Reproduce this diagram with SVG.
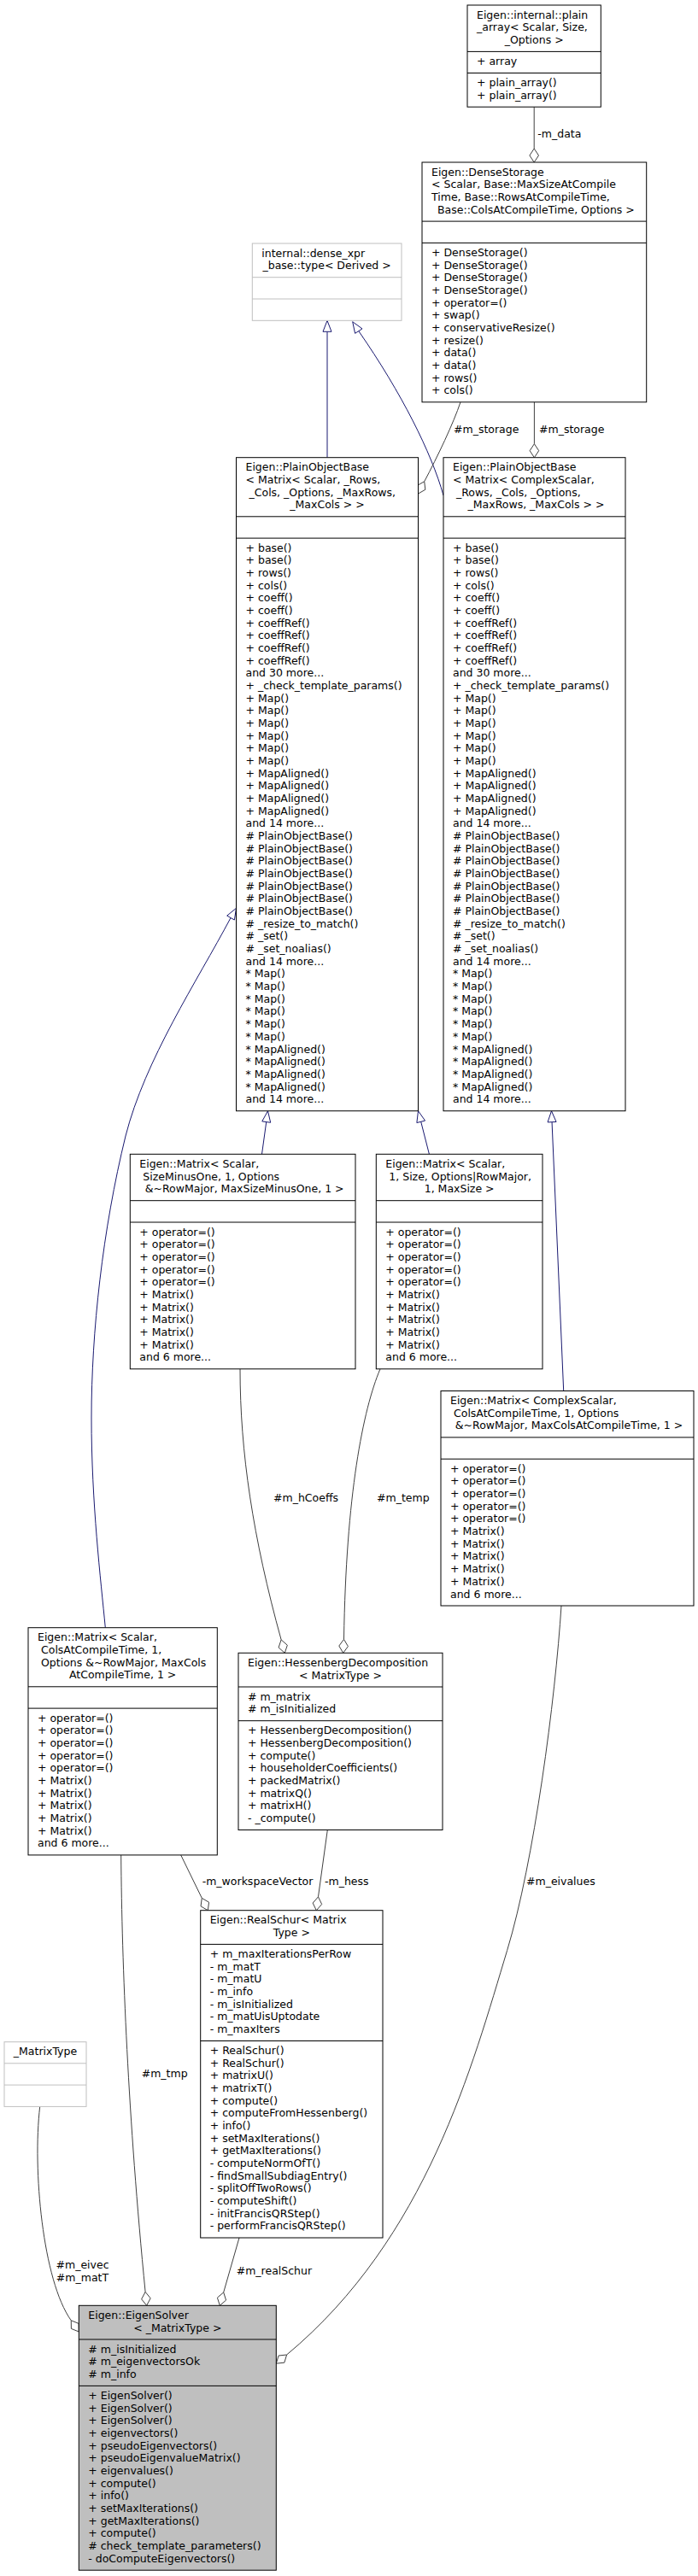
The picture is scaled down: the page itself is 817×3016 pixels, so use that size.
<svg xmlns="http://www.w3.org/2000/svg" width="817" height="3016" viewBox="0 0 817 3016">
<style>
rect.b{fill:#fff;stroke:#000;stroke-width:1}
rect.gr{fill:#fff;stroke:#bfbfbf;stroke-width:1}
rect.sel{fill:#bfbfbf;stroke:#000;stroke-width:1}
path.s{stroke:#000;stroke-width:1;fill:none}
path.sg{stroke:#bfbfbf;stroke-width:1;fill:none}
text{font-family:"DejaVu Sans","Liberation Sans",sans-serif;font-size:12.5px;fill:#000}
.c{text-anchor:middle}
.inh{stroke:#191970;stroke-width:1;fill:none}
.inhh{stroke:#191970;stroke-width:1;fill:#fff}
.use{stroke:#404040;stroke-width:1;fill:none}
.useh{stroke:#404040;stroke-width:1;fill:#fff}
</style>
<rect width="817" height="3016" fill="#fff"/>

<g id="edges">
 <!-- inheritance -->
 <path class="inh" d="M383,535.7 L383,388.3"/>
 <polygon class="inhh" points="383,375.3 388,388.3 378,388.3"/>
 <path class="inh" d="M519,580 C505,530 470,460 419.8,387.6"/>
 <polygon class="inhh" points="412.7,376.7 424,384.9 415.6,390.3"/>
 <path class="inh" d="M306.5,1351.3 L311.72,1313.58"/>
 <polygon class="inhh" points="313.5,1300.7 316.68,1314.27 306.77,1312.9"/>
 <path class="inh" d="M502.4,1351.3 L492.71,1313.3"/>
 <polygon class="inhh" points="489.5,1300.7 497.56,1312.07 487.87,1314.54"/>
 <path class="inh" d="M659.7,1628.5 L646.06,1313.69"/>
 <polygon class="inhh" points="645.5,1300.7 651.06,1313.47 641.06,1313.91"/>
 <path class="inh" d="M123.3,1905.7 C118,1850 107,1760 107,1660 C107,1560 120,1440 147,1330 C170,1240 230,1150 270.03,1074.58"/>
 <polygon class="inhh" points="276.5,1063.3 274.37,1077.07 265.69,1072.09"/>
 <!-- usage -->
 <path class="use" d="M625.2,125.2 L625.2,174"/>
 <polygon class="useh" points="625.2,190 630.5,182 625.2,174 619.9,182"/>
 <text x="629.3" y="161">-m_data</text>
 <path class="use" d="M625.4,470.8 L625.4,519.7"/>
 <polygon class="useh" points="625.4,535.7 630.7,527.7 625.4,519.7 620.1,527.7"/>
 <text x="631" y="507">#m_storage</text>
 <path class="use" d="M539,470.8 C531,495 512,535 496.7,563.71"/>
 <polygon class="useh" points="489.5,578 497.83,573.25 496.7,563.71 488.37,568.48"/>
 <text x="531" y="507">#m_storage</text>
 <path class="use" d="M281,1602.8 C281,1700 296,1800 329.14,1919.84"/>
 <polygon class="useh" points="333.3,1935.3 336.34,1926.19 329.14,1919.84 326.1,1928.95"/>
 <text x="320" y="1757.7">#m_hCoeffs</text>
 <path class="use" d="M445,1602.8 C425,1650 405,1750 402.5,1919.32"/>
 <polygon class="useh" points="401.7,1935.3 407.4,1927.57 402.5,1919.32 396.8,1927.04"/>
 <text x="441" y="1757.7">#m_temp</text>
 <path class="use" d="M211.7,2171.9 L236.29,2222.32"/>
 <polygon class="useh" points="243.3,2236.7 244.56,2227.19 236.29,2222.32 235.04,2231.83"/>
 <text x="236.7" y="2207.3">-m_workspaceVector</text>
 <path class="use" d="M383.3,2142.5 L372.49,2220.85"/>
 <polygon class="useh" points="370.3,2236.7 376.65,2229.51 372.49,2220.85 366.15,2228.05"/>
 <text x="380" y="2207.3">-m_hess</text>
 <path class="use" d="M657,1880 C650,1990 625,2180 593.7,2283.3 C553,2417.6 500,2620 335.62,2756.99"/>
 <polygon class="useh" points="323.3,2767.2 332.84,2766.18 335.62,2756.99 326.08,2758.02"/>
 <text x="616" y="2207.3">#m_eivalues</text>
 <path class="use" d="M46.7,2466.4 C38,2540 50,2670 83.24,2716.82"/>
 <polygon class="useh" points="92.3,2730 92.14,2720.41 83.24,2716.82 83.4,2726.41"/>
 <text class="c" x="96.5" y="2656">#m_eivec</text>
 <text class="c" x="96.5" y="2670.7">#m_matT</text>
 <path class="use" d="M141.7,2171.9 C142.5,2300 150,2480 170.1,2683.38"/>
 <polygon class="useh" points="171.7,2699.3 176.17,2690.81 170.1,2683.38 165.63,2691.87"/>
 <text x="165.7" y="2431.7">#m_tmp</text>
 <path class="use" d="M280,2620 L261.7,2683.92"/>
 <polygon class="useh" points="257.3,2699.3 264.59,2693.07 261.7,2683.92 254.41,2690.15"/>
 <text x="276.7" y="2662.7">#m_realSchur</text>
</g>

<g id="plain_array">
 <rect class="b" x="547" y="6" width="156.3" height="119.2"/>
 <path class="s" d="M547,60.4H703.3M547,85.5H703.3"/>
 <text x="558" y="21.6">Eigen::internal::plain</text>
 <text x="558" y="36.3">_array&lt; Scalar, Size,</text>
 <text class="c" x="625.15" y="51">_Options &gt;</text>
 <text x="558" y="76">+ array</text>
 <text x="558" y="101.1"><tspan x="558">+ plain_array()</tspan><tspan x="558" dy="14.67">+ plain_array()</tspan></text>
</g>

<g id="DenseStorage">
 <rect class="b" x="494" y="190" width="262.7" height="280.8"/>
 <path class="s" d="M494,259.1H756.7M494,284.4H756.7"/>
 <text x="505" y="205.6">Eigen::DenseStorage</text>
 <text x="505" y="220.3">&lt; Scalar, Base::MaxSizeAtCompile</text>
 <text x="505" y="234.9">Time, Base::RowsAtCompileTime,</text>
 <text class="c" x="627.4" y="249.6">Base::ColsAtCompileTime, Options &gt;</text>
 <text x="505" y="300"><tspan x="505">+ DenseStorage()</tspan><tspan x="505" dy="14.67">+ DenseStorage()</tspan><tspan x="505" dy="14.67">+ DenseStorage()</tspan><tspan x="505" dy="14.67">+ DenseStorage()</tspan><tspan x="505" dy="14.67">+ operator=()</tspan><tspan x="505" dy="14.67">+ swap()</tspan><tspan x="505" dy="14.67">+ conservativeResize()</tspan><tspan x="505" dy="14.67">+ resize()</tspan><tspan x="505" dy="14.67">+ data()</tspan><tspan x="505" dy="14.67">+ data()</tspan><tspan x="505" dy="14.67">+ rows()</tspan><tspan x="505" dy="14.67">+ cols()</tspan></text>
</g>

<g id="dense_xpr_base">
 <rect class="gr" x="295.3" y="285" width="174.7" height="90.3"/>
 <path class="sg" d="M295.3,324.7H470M295.3,350H470"/>
 <text x="306.3" y="300.6">internal::dense_xpr</text>
 <text class="c" x="382.65" y="315.3">_base::type&lt; Derived &gt;</text>
</g>

<g id="PlainObjectBase_Scalar">
 <rect class="b" x="276.5" y="535.7" width="213" height="765"/>
 <path class="s" d="M276.5,604.8H489.5M276.5,630.1H489.5"/>
 <text x="287.5" y="551.3">Eigen::PlainObjectBase</text>
 <text x="287.5" y="566">&lt; Matrix&lt; Scalar, _Rows,</text>
 <text x="291.5" y="580.6">_Cols, _Options, _MaxRows,</text>
 <text class="c" x="383" y="595.3">_MaxCols &gt; &gt;</text>
 <text x="287.5" y="645.7"><tspan x="287.5">+ base()</tspan><tspan x="287.5" dy="14.67">+ base()</tspan><tspan x="287.5" dy="14.67">+ rows()</tspan><tspan x="287.5" dy="14.67">+ cols()</tspan><tspan x="287.5" dy="14.67">+ coeff()</tspan><tspan x="287.5" dy="14.67">+ coeff()</tspan><tspan x="287.5" dy="14.67">+ coeffRef()</tspan><tspan x="287.5" dy="14.67">+ coeffRef()</tspan><tspan x="287.5" dy="14.67">+ coeffRef()</tspan><tspan x="287.5" dy="14.67">+ coeffRef()</tspan><tspan x="287.5" dy="14.67">and 30 more...</tspan><tspan x="287.5" dy="14.67">+ _check_template_params()</tspan><tspan x="287.5" dy="14.67">+ Map()</tspan><tspan x="287.5" dy="14.67">+ Map()</tspan><tspan x="287.5" dy="14.67">+ Map()</tspan><tspan x="287.5" dy="14.67">+ Map()</tspan><tspan x="287.5" dy="14.67">+ Map()</tspan><tspan x="287.5" dy="14.67">+ Map()</tspan><tspan x="287.5" dy="14.67">+ MapAligned()</tspan><tspan x="287.5" dy="14.67">+ MapAligned()</tspan><tspan x="287.5" dy="14.67">+ MapAligned()</tspan><tspan x="287.5" dy="14.67">+ MapAligned()</tspan><tspan x="287.5" dy="14.67">and 14 more...</tspan><tspan x="287.5" dy="14.67"># PlainObjectBase()</tspan><tspan x="287.5" dy="14.67"># PlainObjectBase()</tspan><tspan x="287.5" dy="14.67"># PlainObjectBase()</tspan><tspan x="287.5" dy="14.67"># PlainObjectBase()</tspan><tspan x="287.5" dy="14.67"># PlainObjectBase()</tspan><tspan x="287.5" dy="14.67"># PlainObjectBase()</tspan><tspan x="287.5" dy="14.67"># PlainObjectBase()</tspan><tspan x="287.5" dy="14.67"># _resize_to_match()</tspan><tspan x="287.5" dy="14.67"># _set()</tspan><tspan x="287.5" dy="14.67"># _set_noalias()</tspan><tspan x="287.5" dy="14.67">and 14 more...</tspan><tspan x="287.5" dy="14.67">* Map()</tspan><tspan x="287.5" dy="14.67">* Map()</tspan><tspan x="287.5" dy="14.67">* Map()</tspan><tspan x="287.5" dy="14.67">* Map()</tspan><tspan x="287.5" dy="14.67">* Map()</tspan><tspan x="287.5" dy="14.67">* Map()</tspan><tspan x="287.5" dy="14.67">* MapAligned()</tspan><tspan x="287.5" dy="14.67">* MapAligned()</tspan><tspan x="287.5" dy="14.67">* MapAligned()</tspan><tspan x="287.5" dy="14.67">* MapAligned()</tspan><tspan x="287.5" dy="14.67">and 14 more...</tspan></text>
</g>

<g id="PlainObjectBase_Complex">
 <rect class="b" x="519" y="535.7" width="213" height="765"/>
 <path class="s" d="M519,604.8H732M519,630.1H732"/>
 <text x="530" y="551.3">Eigen::PlainObjectBase</text>
 <text x="530" y="566">&lt; Matrix&lt; ComplexScalar,</text>
 <text x="534" y="580.6">_Rows, _Cols, _Options,</text>
 <text class="c" x="627.5" y="595.3">_MaxRows, _MaxCols &gt; &gt;</text>
 <text x="530" y="645.7"><tspan x="530">+ base()</tspan><tspan x="530" dy="14.67">+ base()</tspan><tspan x="530" dy="14.67">+ rows()</tspan><tspan x="530" dy="14.67">+ cols()</tspan><tspan x="530" dy="14.67">+ coeff()</tspan><tspan x="530" dy="14.67">+ coeff()</tspan><tspan x="530" dy="14.67">+ coeffRef()</tspan><tspan x="530" dy="14.67">+ coeffRef()</tspan><tspan x="530" dy="14.67">+ coeffRef()</tspan><tspan x="530" dy="14.67">+ coeffRef()</tspan><tspan x="530" dy="14.67">and 30 more...</tspan><tspan x="530" dy="14.67">+ _check_template_params()</tspan><tspan x="530" dy="14.67">+ Map()</tspan><tspan x="530" dy="14.67">+ Map()</tspan><tspan x="530" dy="14.67">+ Map()</tspan><tspan x="530" dy="14.67">+ Map()</tspan><tspan x="530" dy="14.67">+ Map()</tspan><tspan x="530" dy="14.67">+ Map()</tspan><tspan x="530" dy="14.67">+ MapAligned()</tspan><tspan x="530" dy="14.67">+ MapAligned()</tspan><tspan x="530" dy="14.67">+ MapAligned()</tspan><tspan x="530" dy="14.67">+ MapAligned()</tspan><tspan x="530" dy="14.67">and 14 more...</tspan><tspan x="530" dy="14.67"># PlainObjectBase()</tspan><tspan x="530" dy="14.67"># PlainObjectBase()</tspan><tspan x="530" dy="14.67"># PlainObjectBase()</tspan><tspan x="530" dy="14.67"># PlainObjectBase()</tspan><tspan x="530" dy="14.67"># PlainObjectBase()</tspan><tspan x="530" dy="14.67"># PlainObjectBase()</tspan><tspan x="530" dy="14.67"># PlainObjectBase()</tspan><tspan x="530" dy="14.67"># _resize_to_match()</tspan><tspan x="530" dy="14.67"># _set()</tspan><tspan x="530" dy="14.67"># _set_noalias()</tspan><tspan x="530" dy="14.67">and 14 more...</tspan><tspan x="530" dy="14.67">* Map()</tspan><tspan x="530" dy="14.67">* Map()</tspan><tspan x="530" dy="14.67">* Map()</tspan><tspan x="530" dy="14.67">* Map()</tspan><tspan x="530" dy="14.67">* Map()</tspan><tspan x="530" dy="14.67">* Map()</tspan><tspan x="530" dy="14.67">* MapAligned()</tspan><tspan x="530" dy="14.67">* MapAligned()</tspan><tspan x="530" dy="14.67">* MapAligned()</tspan><tspan x="530" dy="14.67">* MapAligned()</tspan><tspan x="530" dy="14.67">and 14 more...</tspan></text>
</g>

<g id="Matrix_SizeMinusOne">
 <rect class="b" x="152.3" y="1351.3" width="263.7" height="251.5"/>
 <path class="s" d="M152.3,1405.7H416M152.3,1431H416"/>
 <text x="163.3" y="1366.9">Eigen::Matrix&lt; Scalar,</text>
 <text x="167.3" y="1381.6">SizeMinusOne, 1, Options</text>
 <text class="c" x="286.15" y="1396.2">&amp;~RowMajor, MaxSizeMinusOne, 1 &gt;</text>
 <text x="163.3" y="1446.6"><tspan x="163.3">+ operator=()</tspan><tspan x="163.3" dy="14.67">+ operator=()</tspan><tspan x="163.3" dy="14.67">+ operator=()</tspan><tspan x="163.3" dy="14.67">+ operator=()</tspan><tspan x="163.3" dy="14.67">+ operator=()</tspan><tspan x="163.3" dy="14.67">+ Matrix()</tspan><tspan x="163.3" dy="14.67">+ Matrix()</tspan><tspan x="163.3" dy="14.67">+ Matrix()</tspan><tspan x="163.3" dy="14.67">+ Matrix()</tspan><tspan x="163.3" dy="14.67">+ Matrix()</tspan><tspan x="163.3" dy="14.67">and 6 more...</tspan></text>
</g>

<g id="Matrix_RowSize">
 <rect class="b" x="440.3" y="1351.3" width="194.7" height="251.5"/>
 <path class="s" d="M440.3,1405.7H635M440.3,1431H635"/>
 <text x="451.3" y="1366.9">Eigen::Matrix&lt; Scalar,</text>
 <text x="455.3" y="1381.6">1, Size, Options|RowMajor,</text>
 <text class="c" x="537.65" y="1396.2">1, MaxSize &gt;</text>
 <text x="451.3" y="1446.6"><tspan x="451.3">+ operator=()</tspan><tspan x="451.3" dy="14.67">+ operator=()</tspan><tspan x="451.3" dy="14.67">+ operator=()</tspan><tspan x="451.3" dy="14.67">+ operator=()</tspan><tspan x="451.3" dy="14.67">+ operator=()</tspan><tspan x="451.3" dy="14.67">+ Matrix()</tspan><tspan x="451.3" dy="14.67">+ Matrix()</tspan><tspan x="451.3" dy="14.67">+ Matrix()</tspan><tspan x="451.3" dy="14.67">+ Matrix()</tspan><tspan x="451.3" dy="14.67">+ Matrix()</tspan><tspan x="451.3" dy="14.67">and 6 more...</tspan></text>
</g>

<g id="Matrix_ComplexScalar">
 <rect class="b" x="516" y="1628.5" width="296" height="251.5"/>
 <path class="s" d="M516,1682.9H812M516,1708.2H812"/>
 <text x="527" y="1644.1">Eigen::Matrix&lt; ComplexScalar,</text>
 <text x="531" y="1658.8">ColsAtCompileTime, 1, Options</text>
 <text class="c" x="666" y="1673.4">&amp;~RowMajor, MaxColsAtCompileTime, 1 &gt;</text>
 <text x="527" y="1723.8"><tspan x="527">+ operator=()</tspan><tspan x="527" dy="14.67">+ operator=()</tspan><tspan x="527" dy="14.67">+ operator=()</tspan><tspan x="527" dy="14.67">+ operator=()</tspan><tspan x="527" dy="14.67">+ operator=()</tspan><tspan x="527" dy="14.67">+ Matrix()</tspan><tspan x="527" dy="14.67">+ Matrix()</tspan><tspan x="527" dy="14.67">+ Matrix()</tspan><tspan x="527" dy="14.67">+ Matrix()</tspan><tspan x="527" dy="14.67">+ Matrix()</tspan><tspan x="527" dy="14.67">and 6 more...</tspan></text>
</g>

<g id="Matrix_ColsAtCompileTime">
 <rect class="b" x="33" y="1905.7" width="221.3" height="266.2"/>
 <path class="s" d="M33,1974.8H254.3M33,2000.1H254.3"/>
 <text x="44" y="1921.3">Eigen::Matrix&lt; Scalar,</text>
 <text x="48" y="1936">ColsAtCompileTime, 1,</text>
 <text x="48" y="1950.6">Options &amp;~RowMajor, MaxCols</text>
 <text class="c" x="143.65" y="1965.3">AtCompileTime, 1 &gt;</text>
 <text x="44" y="2015.7"><tspan x="44">+ operator=()</tspan><tspan x="44" dy="14.67">+ operator=()</tspan><tspan x="44" dy="14.67">+ operator=()</tspan><tspan x="44" dy="14.67">+ operator=()</tspan><tspan x="44" dy="14.67">+ operator=()</tspan><tspan x="44" dy="14.67">+ Matrix()</tspan><tspan x="44" dy="14.67">+ Matrix()</tspan><tspan x="44" dy="14.67">+ Matrix()</tspan><tspan x="44" dy="14.67">+ Matrix()</tspan><tspan x="44" dy="14.67">+ Matrix()</tspan><tspan x="44" dy="14.67">and 6 more...</tspan></text>
</g>

<g id="HessenbergDecomposition">
 <rect class="b" x="279" y="1935.3" width="239" height="207.2"/>
 <path class="s" d="M279,1975H518M279,2014.7H518"/>
 <text x="290" y="1950.9">Eigen::HessenbergDecomposition</text>
 <text class="c" x="398.5" y="1965.6">&lt; MatrixType &gt;</text>
 <text x="290" y="1990.6"><tspan x="290"># m_matrix</tspan><tspan x="290" dy="14.67"># m_isInitialized</tspan></text>
 <text x="290" y="2030.3"><tspan x="290">+ HessenbergDecomposition()</tspan><tspan x="290" dy="14.67">+ HessenbergDecomposition()</tspan><tspan x="290" dy="14.67">+ compute()</tspan><tspan x="290" dy="14.67">+ householderCoefficients()</tspan><tspan x="290" dy="14.67">+ packedMatrix()</tspan><tspan x="290" dy="14.67">+ matrixQ()</tspan><tspan x="290" dy="14.67">+ matrixH()</tspan><tspan x="290" dy="14.67">- _compute()</tspan></text>
</g>

<g id="RealSchur">
 <rect class="b" x="234.7" y="2236.7" width="213.3" height="383.3"/>
 <path class="s" d="M234.7,2276.4H448M234.7,2389.5H448"/>
 <text x="245.7" y="2252.3">Eigen::RealSchur&lt; Matrix</text>
 <text class="c" x="341.35" y="2267">Type &gt;</text>
 <text x="245.7" y="2292"><tspan x="245.7">+ m_maxIterationsPerRow</tspan><tspan x="245.7" dy="14.67">- m_matT</tspan><tspan x="245.7" dy="14.67">- m_matU</tspan><tspan x="245.7" dy="14.67">- m_info</tspan><tspan x="245.7" dy="14.67">- m_isInitialized</tspan><tspan x="245.7" dy="14.67">- m_matUisUptodate</tspan><tspan x="245.7" dy="14.67">- m_maxIters</tspan></text>
 <text x="245.7" y="2405.1"><tspan x="245.7">+ RealSchur()</tspan><tspan x="245.7" dy="14.67">+ RealSchur()</tspan><tspan x="245.7" dy="14.67">+ matrixU()</tspan><tspan x="245.7" dy="14.67">+ matrixT()</tspan><tspan x="245.7" dy="14.67">+ compute()</tspan><tspan x="245.7" dy="14.67">+ computeFromHessenberg()</tspan><tspan x="245.7" dy="14.67">+ info()</tspan><tspan x="245.7" dy="14.67">+ setMaxIterations()</tspan><tspan x="245.7" dy="14.67">+ getMaxIterations()</tspan><tspan x="245.7" dy="14.67">- computeNormOfT()</tspan><tspan x="245.7" dy="14.67">- findSmallSubdiagEntry()</tspan><tspan x="245.7" dy="14.67">- splitOffTwoRows()</tspan><tspan x="245.7" dy="14.67">- computeShift()</tspan><tspan x="245.7" dy="14.67">- initFrancisQRStep()</tspan><tspan x="245.7" dy="14.67">- performFrancisQRStep()</tspan></text>
</g>

<g id="MatrixType">
 <rect class="gr" x="5" y="2390.7" width="96" height="75.7"/>
 <path class="sg" d="M5,2415.8H101M5,2441.1H101"/>
 <text class="c" x="53" y="2406.3">_MatrixType</text>
</g>

<g id="EigenSolver">
 <rect class="sel" x="92.3" y="2699.3" width="231" height="309.9"/>
 <path class="s" d="M92.3,2739H323.3M92.3,2793.4H323.3"/>
 <text x="103.3" y="2714.9">Eigen::EigenSolver</text>
 <text class="c" x="207.8" y="2729.6">&lt; _MatrixType &gt;</text>
 <text x="103.3" y="2754.6"><tspan x="103.3"># m_isInitialized</tspan><tspan x="103.3" dy="14.67"># m_eigenvectorsOk</tspan><tspan x="103.3" dy="14.67"># m_info</tspan></text>
 <text x="103.3" y="2809"><tspan x="103.3">+ EigenSolver()</tspan><tspan x="103.3" dy="14.67">+ EigenSolver()</tspan><tspan x="103.3" dy="14.67">+ EigenSolver()</tspan><tspan x="103.3" dy="14.67">+ eigenvectors()</tspan><tspan x="103.3" dy="14.67">+ pseudoEigenvectors()</tspan><tspan x="103.3" dy="14.67">+ pseudoEigenvalueMatrix()</tspan><tspan x="103.3" dy="14.67">+ eigenvalues()</tspan><tspan x="103.3" dy="14.67">+ compute()</tspan><tspan x="103.3" dy="14.67">+ info()</tspan><tspan x="103.3" dy="14.67">+ setMaxIterations()</tspan><tspan x="103.3" dy="14.67">+ getMaxIterations()</tspan><tspan x="103.3" dy="14.67">+ compute()</tspan><tspan x="103.3" dy="14.67"># check_template_parameters()</tspan><tspan x="103.3" dy="14.67">- doComputeEigenvectors()</tspan></text>
</g>
</svg>
